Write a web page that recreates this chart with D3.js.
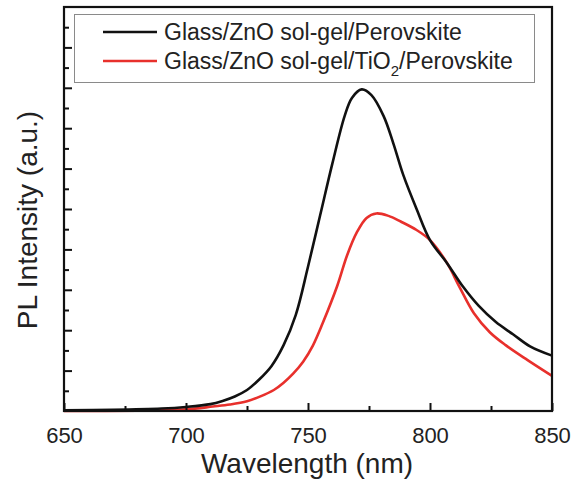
<!DOCTYPE html>
<html>
<head>
<meta charset="utf-8">
<script src="https://cdn.jsdelivr.net/npm/d3@7"></script>
<style>
  body { margin: 0; background: #fff; }
  text { font-family: "Liberation Sans", Arial, sans-serif; fill: #222; }
</style>
</head>
<body>
<div id="chart"></div>
<script>
// wavelengths (nm) and PL intensities
let blackWl = [650, 670, 690, 700, 710, 715, 720, 725, 730, 735, 740, 745, 750, 755, 760, 765, 768, 772, 776, 781, 785, 789, 794.5, 800, 807, 813.5, 820, 827, 834, 841, 850];
let blackPL = [0.02, 0.03, 0.06, 0.1, 0.17, 0.25, 0.36, 0.52, 0.78, 1.11, 1.63, 2.38, 3.57, 4.85, 6.13, 7.3, 7.75, 7.96, 7.82, 7.3, 6.62, 5.85, 5.0, 4.23, 3.66, 3.08, 2.6, 2.2, 1.9, 1.6, 1.37];

let redWl = [650, 680, 700, 711, 718, 725, 730, 736, 740, 744, 748, 752, 756, 762, 766, 770, 774, 778, 783, 788, 794.5, 800, 807, 812, 818, 824.5, 831, 840, 850];
let redPL = [0.0, 0.01, 0.04, 0.11, 0.16, 0.24, 0.35, 0.52, 0.7, 0.93, 1.22, 1.62, 2.17, 3.1, 3.85, 4.42, 4.78, 4.89, 4.83, 4.69, 4.48, 4.23, 3.66, 3.08, 2.42, 1.95, 1.63, 1.26, 0.87];

let legendLabels = ["Glass/ZnO sol-gel/Perovskite", "Glass/ZnO sol-gel/TiO|2|/Perovskite"];
let xTicks = [650, 700, 750, 800, 850];

let width = 574, height = 484;
let margins = {left: 64, right: 22, top: 7, bottom: 73};

let svg = d3.select("#chart").append("svg").attr("width", width).attr("height", height);

let x = d3.scaleLinear().domain([650, 850]).range([margins.left, width - margins.right]);
let y = d3.scaleLinear().domain([0, 10]).range([height - margins.bottom, margins.top]);

let series = [
  {wl: blackWl, pl: blackPL, color: "#111"},
  {wl: redWl, pl: redPL, color: "#e8302c"}
];

let line = d3.line()
  .x(function(d) { return x(d[0]); })
  .y(function(d) { return y(d[1]); })
  .curve(d3.curveCatmullRom.alpha(0.5));

// curves (red first so black sits on top where they cross)
series.slice().reverse().forEach(function(s) {
  svg.append("path")
    .attr("d", line(d3.zip(s.wl, s.pl)))
    .attr("fill", "none")
    .attr("stroke", s.color)
    .attr("stroke-width", 2.6)
    .attr("stroke-linejoin", "round");
});

// x axis ticks: majors every 50, minors in between, pointing inward
let xAxis = d3.axisBottom(x).tickValues(xTicks).tickSize(-8).tickFormat(d3.format("d")).tickPadding(16);
let gx = svg.append("g").attr("transform", "translate(0," + y(0) + ")").call(xAxis);
gx.select(".domain").remove();
gx.selectAll(".tick line").attr("stroke", "#111").attr("stroke-width", 2);
gx.selectAll(".tick text").attr("font-size", 22).attr("fill", "#222").attr("font-family", "Liberation Sans, Arial, sans-serif");

let gxMinor = svg.append("g").attr("transform", "translate(0," + y(0) + ")")
  .call(d3.axisBottom(x).tickValues([675, 725, 775, 825]).tickSize(-5).tickFormat(""));
gxMinor.select(".domain").remove();
gxMinor.selectAll(".tick line").attr("stroke", "#111").attr("stroke-width", 2);

// y axis ticks without labels
let gy = svg.append("g").attr("transform", "translate(" + x(650) + ",0)")
  .call(d3.axisLeft(y).tickValues(d3.range(1, 10)).tickSize(-8).tickFormat(""));
gy.select(".domain").remove();
gy.selectAll(".tick line").attr("stroke", "#111").attr("stroke-width", 2);

let gyMinor = svg.append("g").attr("transform", "translate(" + x(650) + ",0)")
  .call(d3.axisLeft(y).tickValues(d3.range(0.5, 10, 1)).tickSize(-5).tickFormat(""));
gyMinor.select(".domain").remove();
gyMinor.selectAll(".tick line").attr("stroke", "#111").attr("stroke-width", 2);

// frame
svg.append("rect")
  .attr("x", x(650)).attr("y", y(10))
  .attr("width", x(850) - x(650)).attr("height", y(0) - y(10))
  .attr("fill", "none").attr("stroke", "#111").attr("stroke-width", 2.2);

// axis titles
svg.append("text")
  .attr("x", 307).attr("y", 473)
  .attr("text-anchor", "middle").attr("font-size", 28)
  .text("Wavelength (nm)");

svg.append("text")
  .attr("transform", "translate(37,220) rotate(-90)")
  .attr("text-anchor", "middle").attr("font-size", 28)
  .text("PL Intensity (a.u.)");

// legend
let legend = svg.append("g");
legend.append("rect")
  .attr("x", 74.5).attr("y", 14.5).attr("width", 460).attr("height", 68)
  .attr("fill", "#fff").attr("stroke", "#8a8a8a").attr("stroke-width", 1);

legendLabels.forEach(function(label, i) {
  let ly = 32 + i * 29;
  legend.append("line")
    .attr("x1", 103).attr("x2", 157).attr("y1", ly).attr("y2", ly)
    .attr("stroke", series[i].color).attr("stroke-width", 2.6);
  let t = legend.append("text")
    .attr("x", 164).attr("y", ly + 8)
    .attr("font-size", 23);
  label.split("|").forEach(function(part, j) {
    let ts = t.append("tspan").text(part);
    if (j === 1) ts.attr("font-size", 15).attr("dy", 7);
    if (j === 2) ts.attr("dy", -7);
  });
});
</script>
</body>
</html>
